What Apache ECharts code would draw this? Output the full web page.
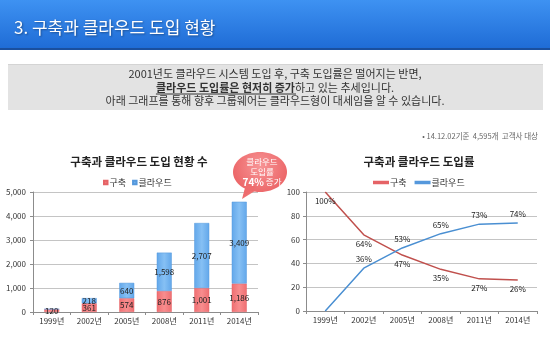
<!DOCTYPE html>
<html>
<head>
<meta charset="utf-8">
<script src="https://cdn.jsdelivr.net/npm/echarts@6/dist/echarts.min.js"></script>
<style>
  html, body { margin: 0; padding: 0; background: #fff; }
  #chart { width: 550px; height: 349px; }
</style>
</head>
<body>
<div id="chart"></div>
<script>
// Survey years
const years = ['1999년', '2002년', '2005년', '2008년', '2011년', '2014년'];
// Number of customers: on-premise build vs. cloud
const buildCount = [120, 361, 574, 876, 1001, 1186];
const cloudCount = [0, 218, 640, 1598, 2707, 3409];
// Adoption rate (%)
const buildRate = [100, 64, 47, 35, 27, 26];
const cloudRate = [0, 36, 53, 65, 73, 74];
// Value-axis ticks
const countTicks = [0, 1000, 2000, 3000, 4000, 5000];
const rateTicks = [0, 20, 40, 60, 80, 100];

const FONT = '"Noto Sans CJK KR", "Noto Sans", sans-serif';
const chart = echarts.init(document.getElementById('chart'), null, { renderer: 'canvas' });

// measure text width for the underline under the highlighted phrase
function textWidth(str, size, weight) {
  const c = document.createElement('canvas').getContext('2d');
  c.font = (weight || 'normal') + ' ' + size + 'px ' + FONT;
  return c.measureText(str).width;
}
const BOX_FS = 11;
const hl = '클라우드 도입률은 현저히 증가';
const rest = '하고 있는 추세입니다.';
const hlW = textWidth(hl, BOX_FS, 'bold');
const restW = textWidth(rest, BOX_FS);
const line2Left = 275 - (hlW + restW) / 2;

const axisLabel = { fontSize: 8, color: '#333', fontFamily: FONT };
const axisLine = { show: true, lineStyle: { color: '#8c8c8c', width: 1 } };
const splitLine = { show: true, lineStyle: { color: '#c4c4c4', width: 1 } };

const option = {
  animation: false,
  textStyle: { fontFamily: FONT },
  title: [
    { text: '구축과 클라우드 도입 현황 수', left: 134, top: 151, textAlign: 'center',
      textStyle: { fontSize: 11.5, fontWeight: 'bold', color: '#222' } },
    { text: '구축과 클라우드 도입률', left: 414, top: 151, textAlign: 'center',
      textStyle: { fontSize: 11.5, fontWeight: 'bold', color: '#222' } }
  ],
  legend: [
    { left: 98, top: 173, itemWidth: 3.5, itemHeight: 3.5, itemGap: 6,
      icon: 'rect', selectedMode: false,
      textStyle: { fontSize: 9, color: '#333', padding: [0, 0, 0, -3] },
      data: [{ name: '구축', itemStyle: { color: '#f2787a' } },
             { name: '클라우드', itemStyle: { color: '#6fb0ee' } }] },
    { left: 368, top: 173, itemWidth: 14, itemHeight: 1.5, itemGap: 8,
      icon: 'rect', selectedMode: false,
      textStyle: { fontSize: 9, color: '#333', padding: [0, 0, 0, -3] },
      data: [{ name: '구축', itemStyle: { color: '#c0504d' } },
             { name: '클라우드', itemStyle: { color: '#4a8fd2' } }] }
  ],
  grid: [
    { left: 33, right: 292, top: 192, bottom: 37 },
    { left: 306, right: 13, top: 192, bottom: 38 }
  ],
  xAxis: [
    { type: 'category', gridIndex: 0, data: years,
      axisLine, axisTick: { show: true, length: 3, lineStyle: { color: '#8c8c8c' } },
      axisLabel: Object.assign({ margin: 5 }, axisLabel) },
    { type: 'category', gridIndex: 1, data: years,
      axisLine, axisTick: { show: true, length: 3, lineStyle: { color: '#8c8c8c' } },
      axisLabel: Object.assign({ margin: 5 }, axisLabel) }
  ],
  yAxis: [
    { type: 'value', gridIndex: 0, min: countTicks[0], max: countTicks[countTicks.length - 1],
      interval: countTicks[1] - countTicks[0],
      axisLine, axisTick: { show: true, length: 3, lineStyle: { color: '#8c8c8c' } }, splitLine,
      axisLabel: Object.assign({ margin: 7,
        formatter: v => v.toLocaleString('en-US') }, axisLabel) },
    { type: 'value', gridIndex: 1, min: rateTicks[0], max: rateTicks[rateTicks.length - 1],
      interval: rateTicks[1] - rateTicks[0],
      axisLine, axisTick: { show: true, length: 3, lineStyle: { color: '#8c8c8c' } }, splitLine,
      axisLabel: Object.assign({ margin: 6 }, axisLabel) }
  ],
  series: [
    { name: '구축', type: 'bar', stack: 'count', xAxisIndex: 0, yAxisIndex: 0,
      barWidth: 15, data: buildCount,
      itemStyle: { color: new echarts.graphic.LinearGradient(0, 0, 1, 0, [
        { offset: 0, color: '#ef6e71' }, { offset: 0.5, color: '#f88d8e' }, { offset: 1, color: '#ef6e71' }]),
        borderColor: '#e56366', borderWidth: 0.5 },
      label: { show: true, position: 'inside', fontSize: 8, color: '#222',
        formatter: p => p.value ? p.value.toLocaleString('en-US') : '' } },
    { name: '클라우드', type: 'bar', stack: 'count', xAxisIndex: 0, yAxisIndex: 0,
      barWidth: 15, data: cloudCount,
      itemStyle: { color: new echarts.graphic.LinearGradient(0, 0, 1, 0, [
        { offset: 0, color: '#62a7ea' }, { offset: 0.5, color: '#86c0f4' }, { offset: 1, color: '#62a7ea' }]),
        borderColor: '#5598dc', borderWidth: 0.5 },
      label: { show: true, position: 'inside', fontSize: 8, color: '#222',
        formatter: p => p.value ? p.value.toLocaleString('en-US') : '' } },
    { name: '구축', type: 'line', xAxisIndex: 1, yAxisIndex: 1, data: buildRate,
      symbol: 'circle', symbolSize: 0.01, lineStyle: { color: '#c0504d', width: 1.5 },
      itemStyle: { color: '#c0504d' },
      label: { show: true, position: 'bottom', distance: 5, fontSize: 8, color: '#222',
        formatter: p => p.value + '%' } },
    { name: '클라우드', type: 'line', xAxisIndex: 1, yAxisIndex: 1, data: cloudRate,
      symbol: 'circle', symbolSize: 0.01, lineStyle: { color: '#4a8fd2', width: 1.5 },
      itemStyle: { color: '#4a8fd2' },
      label: { show: true, position: 'top', distance: 5, fontSize: 8, color: '#222',
        formatter: p => p.value ? p.value + '%' : '' } }
  ],
  graphic: [
    // header band
    { type: 'rect', left: 0, top: 0, z: 0, shape: { width: 550, height: 48 },
      style: { fill: new echarts.graphic.LinearGradient(0, 0, 0, 1, [
        { offset: 0, color: '#3e92f2' }, { offset: 1, color: '#1f6cd6' }]) } },
    { type: 'rect', left: 0, top: 48, z: 0, shape: { width: 550, height: 2 },
      style: { fill: '#1a4f9e' } },
    { type: 'text', x: 14, y: 28, z: 2,
      style: { text: '3. 구축과 클라우드 도입 현황', fill: '#fff', fontSize: 17,
        fontFamily: FONT, verticalAlign: 'middle',
        textShadowColor: 'rgba(0,0,0,0.35)', textShadowBlur: 2,
        textShadowOffsetX: 1, textShadowOffsetY: 1 } },
    // summary box
    { type: 'rect', left: 8, top: 64, z: 0, shape: { width: 535, height: 46 },
      style: { fill: '#e3e3e3' } },
    { type: 'rect', left: 8, top: 64, z: 0, shape: { width: 535, height: 1 },
      style: { fill: '#d4d4d4' } },
    { type: 'text', x: 275, y: 74, z: 2,
      style: { text: '2001년도 클라우드 시스템 도입 후, 구축 도입률은 떨어지는 반면,',
        fill: '#333', fontSize: BOX_FS, fontFamily: FONT, align: 'center', verticalAlign: 'middle' } },
    { type: 'text', x: line2Left, y: 87.5, z: 2,
      style: { text: '{u|' + hl + '}' + rest, fill: '#333', fontSize: BOX_FS, fontFamily: FONT,
        align: 'left', verticalAlign: 'middle',
        rich: { u: { fontSize: BOX_FS, fontFamily: FONT, fontWeight: 'bold', fill: '#333' } } } },
    { type: 'line', z: 2, shape: { x1: line2Left, y1: 94, x2: line2Left + hlW + 1, y2: 94 },
      style: { stroke: '#333', lineWidth: 1 } },
    { type: 'text', x: 275, y: 101, z: 2,
      style: { text: '아래 그래프를 통해 향후 그룹웨어는 클라우드형이 대세임을 알 수 있습니다.',
        fill: '#333', fontSize: BOX_FS, fontFamily: FONT, align: 'center', verticalAlign: 'middle' } },
    // basis note
    { type: 'text', x: 538, y: 136, z: 2,
      style: { text: '• 14.12.02기준  4,595개  고객사 대상', fill: '#666', fontSize: 7.5,
        fontFamily: FONT, align: 'right', verticalAlign: 'middle' } },
    // callout bubble
    { type: 'group', z: 10, children: [
      { type: 'polygon', z: 10, shape: { points: [[246, 184], [242, 199], [258, 189]] },
        style: { fill: '#ee7071' } },
      { type: 'ellipse', z: 11, shape: { cx: 260, cy: 172, rx: 27, ry: 20 },
        style: { fill: new echarts.graphic.RadialGradient(0.5, 0.35, 0.7, [
          { offset: 0, color: '#f79596' }, { offset: 1, color: '#ec6769' }]) } },
      { type: 'polygon', z: 12, shape: { points: [[247, 183], [243, 197], [256, 187]] },
        style: { fill: '#ee6c6e' } },
      { type: 'text', z: 13, x: 262, y: 172,
        style: { text: '클라우드\n도입률\n{b|74%} 증가', fill: '#fff', fontSize: 8.5,
          fontFamily: FONT, align: 'center', verticalAlign: 'middle', lineHeight: 10,
          rich: { b: { fontSize: 10, fontWeight: 'bold', fill: '#fff', fontFamily: FONT } } } }
    ] }
  ]
};
chart.setOption(option);
</script>
</body>
</html>
